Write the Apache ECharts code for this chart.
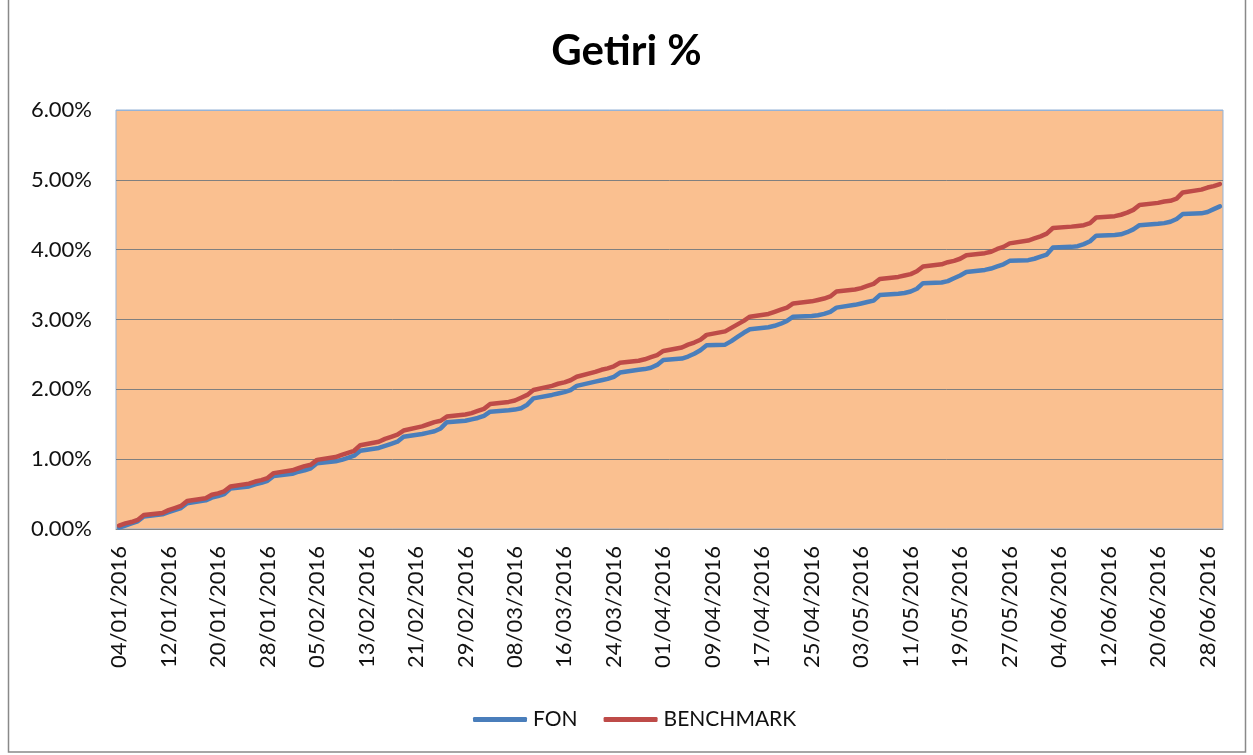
<!DOCTYPE html>
<html>
<head>
<meta charset="utf-8">
<script src="https://cdn.jsdelivr.net/npm/echarts@6/dist/echarts.min.js"></script>
<style>
html,body{margin:0;padding:0;background:#fff;}
#chart{width:1253px;height:755px;}
</style>
</head>
<body>
<div id="chart"></div>
<script>
// Calendar range of the date axis (one category per day)
var startDate = [2016, 0, 4];
var dayCount = 179; // 04/01/2016 .. 30/06/2016

// Cumulative return in %, one row per calendar week Mon..Sun (weekends null)
var fon = [
  0.02,0.05,0.08,0.11,0.18,null,null,
  0.21,0.24,0.27,0.30,0.37,null,null,
  0.41,0.45,0.47,0.50,0.58,null,null,
  0.61,0.64,0.66,0.69,0.76,null,null,
  0.79,0.82,0.84,0.87,0.94,null,null,
  0.97,0.99,1.02,1.05,1.12,null,null,
  1.16,1.19,1.22,1.25,1.32,null,null,
  1.36,1.38,1.40,1.44,1.53,null,null,
  1.55,1.57,1.59,1.62,1.68,null,null,
  1.70,1.71,1.73,1.78,1.87,null,null,
  1.92,1.94,1.96,1.99,2.05,null,null,
  2.11,2.13,2.15,2.18,2.24,null,null,
  2.28,2.29,2.31,2.35,2.42,null,null,
  2.44,2.47,2.51,2.56,2.63,null,null,
  2.64,2.69,2.75,2.81,2.86,null,null,
  2.89,2.91,2.94,2.98,3.04,null,null,
  3.05,3.06,3.08,3.11,3.17,null,null,
  3.21,3.23,3.25,3.27,3.35,null,null,
  3.37,3.38,3.40,3.44,3.52,null,null,
  3.53,3.55,3.59,3.63,3.68,null,null,
  3.71,3.73,3.76,3.79,3.84,null,null,
  3.85,3.87,3.90,3.93,4.03,null,null,
  4.04,4.05,4.08,4.12,4.20,null,null,
  4.21,4.22,4.25,4.29,4.35,null,null,
  4.37,4.38,4.40,4.44,4.51,null,null,
  4.52,4.54,4.58,4.62
];
var benchmark = [
  0.05,0.08,0.10,0.13,0.20,null,null,
  0.23,0.27,0.30,0.33,0.40,null,null,
  0.44,0.49,0.51,0.54,0.61,null,null,
  0.65,0.68,0.70,0.73,0.80,null,null,
  0.84,0.87,0.90,0.92,0.99,null,null,
  1.03,1.06,1.09,1.12,1.20,null,null,
  1.25,1.29,1.32,1.35,1.41,null,null,
  1.47,1.50,1.53,1.55,1.61,null,null,
  1.64,1.66,1.69,1.72,1.79,null,null,
  1.82,1.84,1.88,1.92,1.99,null,null,
  2.05,2.08,2.10,2.13,2.18,null,null,
  2.25,2.28,2.30,2.33,2.38,null,null,
  2.41,2.43,2.46,2.49,2.55,null,null,
  2.60,2.64,2.67,2.71,2.78,null,null,
  2.83,2.88,2.93,2.98,3.04,null,null,
  3.08,3.11,3.14,3.17,3.23,null,null,
  3.26,3.28,3.30,3.33,3.40,null,null,
  3.43,3.45,3.48,3.51,3.58,null,null,
  3.61,3.63,3.65,3.69,3.76,null,null,
  3.79,3.82,3.84,3.87,3.92,null,null,
  3.95,3.97,4.01,4.04,4.09,null,null,
  4.13,4.16,4.19,4.23,4.31,null,null,
  4.33,4.34,4.35,4.38,4.46,null,null,
  4.48,4.50,4.53,4.57,4.64,null,null,
  4.67,4.69,4.70,4.73,4.82,null,null,
  4.86,4.89,4.91,4.94
];
var seriesNames = ['FON', 'BENCHMARK'];
var yTicks = {min: 0, max: 6, interval: 1};

function pad(n){ return (n < 10 ? '0' : '') + n; }
var categories = [];
for (var i = 0; i < dayCount; i++) {
  var d = new Date(Date.UTC(startDate[0], startDate[1], startDate[2] + i));
  categories.push(pad(d.getUTCDate()) + '/' + pad(d.getUTCMonth() + 1) + '/' + d.getUTCFullYear());
}

var font = 'Lato, "Open Sans", sans-serif';
var chart = echarts.init(document.getElementById('chart'), null, {renderer: 'canvas'});
chart.setOption({
  animation: false,
  backgroundColor: '#ffffff',
  title: {
    text: 'Getiri %',
    left: 'center',
    top: 25,
    textStyle: {fontFamily: font, fontSize: 42, fontWeight: 'bold', color: '#000'}
  },
  legend: {
    data: seriesNames,
    left: 468,
    top: 704,
    icon: 'roundRect',
    itemWidth: 54,
    itemHeight: 5,
    itemGap: 26,
    textStyle: {fontFamily: font, fontSize: 21, color: '#111', padding: [0, 0, 0, 1]}
  },
  grid: {
    left: 116, top: 110, right: 30, bottom: 226,
    show: true,
    backgroundColor: '#FAC090',
    borderColor: '#95B3D7',
    borderWidth: 1
  },
  xAxis: {
    type: 'category',
    data: categories,
    boundaryGap: true,
    axisLine: {show: true, lineStyle: {color: '#868686', width: 1}},
    axisTick: {show: false},
    axisLabel: {
      interval: 7,
      rotate: 90,
      margin: 17,
      fontFamily: font,
      fontSize: 22,
      color: '#111'
    },
    splitLine: {show: false}
  },
  yAxis: {
    type: 'value',
    min: yTicks.min,
    max: yTicks.max,
    interval: yTicks.interval,
    axisLine: {show: false},
    axisTick: {show: false},
    axisLabel: {
      margin: 24,
      fontFamily: font,
      fontSize: 22,
      color: '#111',
      formatter: function (v) { return v.toFixed(2) + '%'; }
    },
    splitLine: {
      show: true,
      lineStyle: {
        color: ['#7f7f7f', '#7f7f7f', '#7f7f7f', '#7f7f7f', '#7f7f7f', '#7f7f7f', '#95B3D7'],
        width: 1
      }
    }
  },
  series: [
    {
      name: seriesNames[0],
      type: 'line',
      data: fon,
      connectNulls: true,
      showSymbol: false,
      symbol: 'none',
      color: '#4A7EBB',
      lineStyle: {width: 4.5, color: '#4A7EBB', cap: 'round', join: 'round'}
    },
    {
      name: seriesNames[1],
      type: 'line',
      data: benchmark,
      connectNulls: true,
      showSymbol: false,
      symbol: 'none',
      color: '#BE4B48',
      lineStyle: {width: 4.5, color: '#BE4B48', cap: 'round', join: 'round'}
    }
  ],
  graphic: [
    {
      type: 'rect',
      silent: true,
      shape: {x: 8.5, y: -5, width: 1237, height: 757},
      style: {fill: 'none', stroke: '#898989', lineWidth: 1.5}
    }
  ]
});
</script>
</body>
</html>
